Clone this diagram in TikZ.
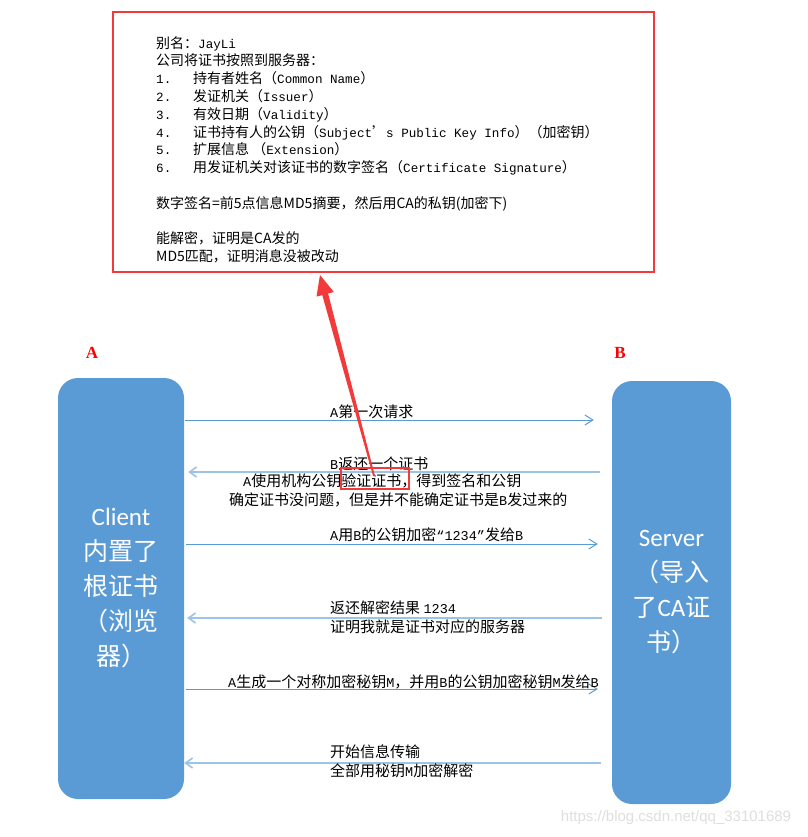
\documentclass[tikz,border=0pt]{standalone}
\usepackage{fontspec}
\setmainfont{Noto Sans CJK SC}
\newfontfamily\monofnt[Scale=0.9]{Liberation Mono}
\newfontfamily\calfont{Carlito}
\newfontfamily\serfont{Liberation Serif}
\newfontfamily\sansfnt{Liberation Sans}
\newcommand\mn[1]{{\monofnt #1}}
\newcommand\numitem[1]{\makebox[37pt][l]{\mn{#1}}}
\usetikzlibrary{arrows.meta}
\definecolor{boxblue}{HTML}{5B9BD5}
\definecolor{arrdark}{HTML}{5B9BD5}
\definecolor{arrlight}{HTML}{9DC3E6}
\definecolor{redline}{HTML}{F23A3A}
\begin{document}
\begin{tikzpicture}[x=1pt,y=-1pt,
  actor/.style={draw=none, fill=boxblue, rounded corners=20pt, text=white, align=center,
    font=\fontsize{25}{35}\selectfont, inner sep=0pt},
  rarr/.style={draw=arrdark, line width=1pt, -{Straight Barb[length=8pt,width=10pt]}},
  larr/.style={draw=arrlight, line width=1.6pt, -{Straight Barb[length=7pt,width=10pt]}},
  lbl/.style={anchor=west, inner sep=0pt, font=\fontsize{15}{18}\selectfont},
  ablabel/.style={text=red, font=\serfont\bfseries\fontsize{17}{20}\selectfont, inner sep=0pt},
]
\useasboundingbox (0,0) rectangle (807,837);

% top info box
\node[draw=redline, line width=2.5pt, minimum width=541pt, minimum height=260pt, inner sep=0pt] (info) at (383.5,142) {};
\node[anchor=north west, align=left, inner sep=0pt, font=\fontsize{14}{17.8}\selectfont] (infotext) at (156,36) {%
别名：\mn{JayLi}\\
公司将证书按照到服务器：\\
\numitem{1.}持有者姓名（\mn{Common Name}）\\
\numitem{2.}发证机关（\mn{Issuer}）\\
\numitem{3.}有效日期（\mn{Validity}）\\
\numitem{4.}证书持有人的公钥（\mn{Subject}’\mn{s Public Key Info}）（加密钥）\\
\numitem{5.}扩展信息 （\mn{Extension}）\\
\numitem{6.}用发证机关对该证书的数字签名（\mn{Certificate Signature}）\\
\mbox{}\\
数字签名=前5点信息MD5摘要，然后用CA的私钥(加密下)\\
\mbox{}\\
能解密，证明是CA发的\\
MD5匹配，证明消息没被改动};

% A / B labels
\node[ablabel] (la) at (92,353) {A};
\node[ablabel] (lb) at (620,353) {B};

% actors
\node[actor, minimum width=126pt, minimum height=421pt] (client) at (121,588.5)
  {{\calfont Client}\\内置了\\根证书\\（浏览\\器）};
\node[actor, minimum width=119pt, minimum height=423pt] (server) at (671.5,592.5)
  {{\calfont Server}\\（导入\\了{\calfont CA}证\\书）};

% messages
\draw[rarr, shorten <=1pt, shorten >=18pt] (client.east |- 0,420) -- (server.west |- 0,420);
\node[lbl] (m1) at (330,411.7) {\mn{A}第一次请求};

\draw[larr, shorten <=12pt, shorten >=4pt] (server.west |- 0,472) -- (client.east |- 0,472);
\node[lbl] (m2) at (330,464) {\mn{B}返还一个证书};
\node[lbl] (m2b) at (243,481) {\mn{A}使用机构公钥验证证书，得到签名和公钥};
\node[lbl] (m2c) at (229,500) {确定证书没问题，但是并不能确定证书是\mn{B}发过来的};

\draw[rarr, shorten <=2pt, shorten >=14pt] (client.east |- 0,544) -- (server.west |- 0,544);
\node[lbl] (m3) at (330,535) {\mn{A}用\mn{B}的公钥加密\mn{“1234”}发给\mn{B}};

\draw[larr, shorten <=10pt, shorten >=3pt] (server.west |- 0,618) -- (client.east |- 0,618);
\node[lbl] (m4) at (330,608) {返还解密结果 \mn{1234}};
\node[lbl] (m4b) at (330,626.7) {证明我就是证书对应的服务器};

\draw[rarr, shorten <=2pt, shorten >=14pt] (client.east |- 0,689) -- (server.west |- 0,689);
\node[lbl] (m5) at (228,681.7) {\mn{A}生成一个对称加密秘钥\mn{M}，并用\mn{B}的公钥加密秘钥\mn{M}发给\mn{B}};

\draw[larr, shorten <=11pt, shorten >=0pt] (server.west |- 0,763) -- (client.east |- 0,763);
\node[lbl] (m6) at (330,751.7) {开始信息传输};
\node[lbl] (m6b) at (330,771) {全部用秘钥\mn{M}加密解密};

% highlight box and red arrow
\node[draw=redline, line width=2pt, minimum width=68pt, minimum height=21pt, inner sep=0pt] (vbox) at (375,478.5) {};
\fill[redline] (320,275) -- (333.9,292) -- (328.1,293.5) -- (374.9,475.8) -- (373.1,476.2) -- (322.3,295.1) -- (316.5,296.6) -- cycle;

% watermark
\node[text=black!13, font=\sansfnt\fontsize{15}{18}\selectfont, inner sep=0pt] (wm) at (676,818) {https://blog.csdn.net/qq\_33101689};
\end{tikzpicture}
\end{document}
